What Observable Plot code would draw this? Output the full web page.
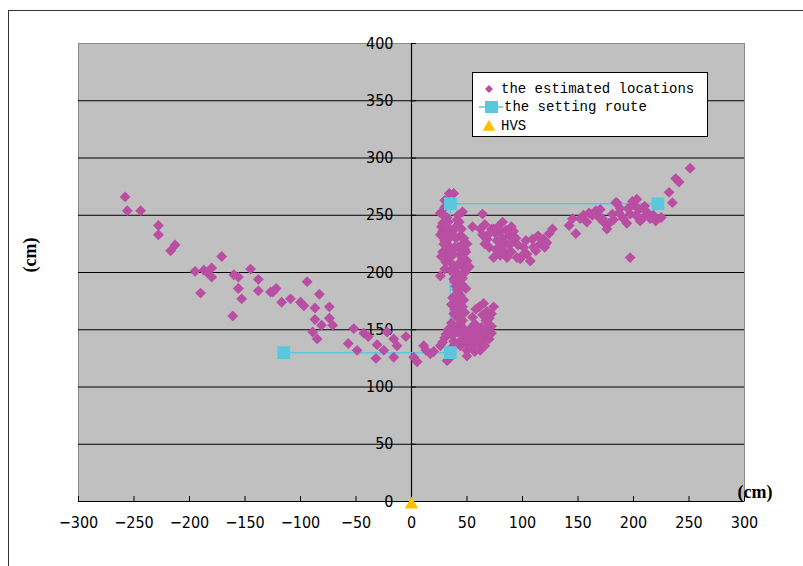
<!DOCTYPE html>
<html><head><meta charset="utf-8">
<script src="https://cdn.jsdelivr.net/npm/d3@7"></script>
<script src="https://cdn.jsdelivr.net/npm/@observablehq/plot@0.6"></script>
<style>
body{margin:0;background:#fff;}
#wrap{position:relative;width:803px;height:566px;overflow:hidden;}
#border{position:absolute;left:8px;top:10px;width:900px;height:700px;border-top:1px solid #333;border-left:1px solid #333;pointer-events:none;}
#legend{position:absolute;left:472px;top:72px;width:236px;height:65px;background:#fff;border:1px solid #000;box-sizing:border-box;font-family:"Liberation Mono","DejaVu Sans Mono",monospace;font-size:14px;color:#000;}
#legend .row{position:absolute;left:0;height:18px;line-height:18px;white-space:nowrap;}
#legend svg{position:absolute;left:0;top:0;}
#legend span{position:absolute;top:0;}
</style></head>
<body><div id="wrap"><div id="chart"></div><div id="border"></div><div id="legend"></div></div>
<script>
// estimated locations [x cm, y cm]
const estimated = [
 [-258,266],[-256,254],[-244,254],[-228,241],[-228,233],[-217,219],[-213,224],[-171,214],
 [-195,201],[-187,202],[-184,200],[-180,204],[-180,196],[-190,182],[-160,198],[-156,196],
 [-145,203],[-138,194],[-156,186],[-153,177],[-138,184],[-127,183],[-161,162],[-125,183],
 [-122,186],[-117,174],[-109,177],[-100,174],[-97,171],[-94,192],[-83,181],[-87,169],
 [-74,170],[-87,159],[-74,160],[-71,154],[-81,154],[-89,148],[-85,142],[-52,151],
 [-57,138],[-49,132],[-43,147],[-39,144],[-31,137],[-32,125],[-25,132],[-22,148],
 [-16,142],[-13,136],[-16,126],[-5,144],[2,126],[5,122],[11,136],
 [17,129],[26,136],[20,131],[13,132],[34,125],[50,132],[50,127],[62,132],[32,123],
 [38,194],[40,188],[42,183],[37,178],[40,172],[44,168],[38,164],[42,160],[36,156],[44,155],
 [40,150],[34,147],[46,146],[30,143],[38,140],[48,142],[52,149],[56,145],[60,150],[64,146],
 [66,141],[70,148],[58,139],[62,136],[50,138],[44,136],[28,139],[61,170],[65,173],[74,170],
 [55,161],[67,158],[70,160],[72,153],[68,152],[57,155],[46,158],[48,165],[42,175],[45,190],
 [40,197],[36,152],[54,152],[62,142],[68,145],[46,170],[44,180],[41,185],[49,186],
 [33,150],[37,145],[42,148],[47,151],[51,145],[55,140],[59,146],[63,152],[66,136],[70,142],
 [72,147],[53,135],[57,131],[45,141],[39,137],[35,133],[31,146],[43,163],[39,168],[36,172],
 [47,176],[43,190],[39,192],[46,195],[58,168],[68,166],[72,164],[64,163],
 [34,269],[38,269],[30,257],[26,252],[32,248],[28,243],[34,238],[26,233],[30,228],[34,223],
 [28,218],[32,213],[36,208],[30,203],[26,197],[35,202],[46,253],[64,251],[43,244],[55,240],
 [44,232],[46,225],[48,220],[44,215],[50,210],[46,205],[48,200],[44,196],[40,230],[38,216],
 [42,250],[36,260],[30,263],[28,236],[32,230],[40,240],[42,222],[46,212],[38,204],
 [29,250],[33,244],[27,240],[31,235],[35,231],[29,225],[33,219],[27,214],[31,209],[35,214],
 [39,222],[37,236],[41,246],[45,238],[47,230],[49,218],[43,208],[41,200],[50,225],[52,205],
 [64,233],[68,229],[72,238],[74,238],[77,228],[82,244],[85,237],[88,232],[92,229],[80,222],
 [74,213],[86,213],[95,213],[101,222],[109,229],[112,219],[98,212],[107,210],[119,229],[124,234],
 [127,238],[70,222],[78,240],[90,240],[66,225],[82,230],[84,218],[96,224],[104,216],[116,225],
 [62,238],[66,242],[70,234],[76,234],[80,236],[84,226],[88,224],[92,236],[76,220],[80,215],
 [90,218],[94,230],[100,215],[103,228],[110,222],[114,232],[120,222],[122,226],
 [142,241],[148,234],[145,247],[152,247],[155,250],[166,254],[169,248],[173,244],[176,238],[181,251],
 [184,261],[191,247],[194,243],[197,213],[197,251],[200,259],[203,264],[209,248],[215,247],[220,245],
 [185,261],[172,247],[232,270],[235,261],[238,282],[241,279],[251,291],[160,252],[188,256],[205,255],
 [212,253],[178,243],[199,262],[202,250],[206,245],
 [158,244],[163,250],[170,255],[182,246],[187,252],[195,256],[210,258],[218,250],[225,248]
];
// setting route
const routeX = [-115, 35, 35, 222];
const routeY = [130, 130, 260, 260];
// HVS
const hvsX = [0];
const hvsY = [0];
// axes
const xTicks = [-300,-250,-200,-150,-100,-50,0,50,100,150,200,250,300];
const yTicks = [0,50,100,150,200,250,300,350,400];
const yGrid = [50,100,150,200,250,300,350];

const route = routeX.map((x, i) => ({x, y: routeY[i]}));
const hvs = hvsX.map((x, i) => ({x, y: hvsY[i]}));

const PURPLE = "#b94ea3", CYAN = "#5ac8dc", GOLD = "#ffc000";
const numFont = "'Liberation Sans Narrow','DejaVu Sans Condensed',sans-serif";

const chart = Plot.plot({
  width: 803, height: 566,
  marginLeft: 78, marginRight: 59, marginTop: 43, marginBottom: 65,
  x: {domain: [-300, 300], axis: null, label: null},
  y: {domain: [0, 400], axis: null, label: null},
  style: {background: "transparent", fontFamily: numFont, fontSize: "16px", color: "#000", overflow: "visible"},
  marks: [
    Plot.frame({fill: "#c0c0c0", stroke: "#888"}),
    Plot.ruleY(yGrid, {stroke: "#000", strokeWidth: 1}),
    Plot.ruleY([0], {stroke: "#000", strokeWidth: 1.2}),
    Plot.ruleX([0], {stroke: "#000", strokeWidth: 1.2}),
    Plot.ruleX(xTicks, {y1: 0, y2: 4.4, stroke: "#000"}),
    Plot.ruleY(yTicks, {x1: 0, x2: 4.5, stroke: "#000"}),
    Plot.text(xTicks, {x: d => d, y: 0, text: d => String(d).replace("-", "\u2212"), lineAnchor: "top", dy: 15, fontSize: 16, fontFamily: numFont}),
    Plot.text(yTicks, {x: 0, y: d => d, text: d => String(d), textAnchor: "end", dx: -18, fontSize: 16, fontFamily: numFont}),
    Plot.line(route, {x: "x", y: "y", stroke: CYAN, strokeWidth: 1.5}),
    Plot.dot(estimated, {x: d => d[0], y: d => d[1], symbol: "diamond2", r: 4.9, fill: PURPLE, stroke: "none"}),
    Plot.dot(route, {x: "x", y: "y", symbol: "square", r: 7.2, fill: CYAN, stroke: "none"}),
    Plot.dot(hvs, {x: "x", y: "y", symbol: "triangle", r: 5, fill: GOLD, stroke: "none", dy: 3}),
    Plot.text(["(cm)"], {frameAnchor: "bottom-right", textAnchor: "start", dx: -7, dy: -4, fontSize: 18, fontWeight: "bold", fontFamily: "'Liberation Serif',serif"}),
    Plot.text(["(cm)"], {frameAnchor: "left", dx: -48, rotate: -90, fontSize: 18, fontWeight: "bold", fontFamily: "'Liberation Serif',serif"})
  ]
});
document.getElementById("chart").appendChild(chart);

// legend
const items = [
  {label: "the estimated locations", kind: "diamond", top: 7, tx: 28},
  {label: "the setting route", kind: "route", top: 25, tx: 31},
  {label: "HVS", kind: "triangle", top: 44, tx: 28}
];
const lg = d3.select("#legend");
for (const it of items) {
  const row = lg.append("div").attr("class", "row").style("top", it.top + "px").style("width", "234px");
  const svg = row.append("svg").attr("width", 30).attr("height", 18);
  if (it.kind === "diamond") {
    svg.append("path").attr("d", d3.symbol(d3.symbolDiamond2, 40)()).attr("transform", "translate(16,9)").attr("fill", PURPLE);
  } else if (it.kind === "route") {
    svg.append("line").attr("x1", 6).attr("x2", 30).attr("y1", 9).attr("y2", 9).attr("stroke", CYAN).attr("stroke-width", 1.5);
    svg.append("rect").attr("x", 12).attr("y", 3).attr("width", 13).attr("height", 12).attr("fill", CYAN);
  } else {
    svg.append("path").attr("d", d3.symbol(d3.symbolTriangle, 70)()).attr("transform", "translate(16,10)").attr("fill", GOLD);
  }
  row.append("span").style("left", it.tx + "px").text(it.label);
}
</script>
</body></html>
